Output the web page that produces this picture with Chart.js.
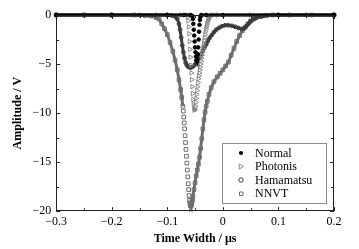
<!DOCTYPE html>
<html>
<head>
<meta charset="utf-8">
<script src="https://cdn.jsdelivr.net/npm/chart.js@4.4.0/dist/chart.umd.min.js"></script>
<style>
  html, body { margin: 0; padding: 0; background: #fff; }
</style>
</head>
<body>
<canvas id="pulseChart" width="359" height="249"></canvas>
<script>
const seriesNames = ['Normal', 'Photonis', 'Hamamatsu', 'NNVT'];

const xNormal = [-0.3, -0.2, -0.1, -0.07, -0.058, -0.0548, -0.054, -0.0532, -0.0524, -0.0516, -0.0508, -0.05, -0.0492, -0.0484,
  -0.0476, -0.0468, -0.046, -0.0452, -0.0444, -0.0436, -0.0428, -0.042, -0.0412, -0.0404, -0.039, -0.03, 0, 0.1, 0.2];
const yNormal = [0, 0, 0, 0, 0, -0.1, -0.4, -0.9, -1.5, -2.1, -2.7, -3.3, -3.8, -4.25,
  -4.6, -4.7, -4.5, -4.0, -3.3, -2.5, -1.7, -1.0, -0.5, -0.2, 0, 0, 0, 0, 0];

const xPhotonis = [-0.3, -0.2, -0.1, -0.075, -0.064,
  -0.0632, -0.0624, -0.0616, -0.0608, -0.06, -0.0592, -0.0584, -0.0576, -0.0568, -0.056, -0.0552, -0.0544, -0.0536, -0.0528, -0.052, -0.0512,
  -0.0504, -0.0496, -0.0488, -0.048, -0.0472, -0.0464, -0.0456, -0.0448, -0.044, -0.0432, -0.0424, -0.0416, -0.0408, -0.04, -0.0392,
  -0.0384, -0.0376, -0.0368, -0.036, -0.0352, -0.0344, -0.0336, -0.0328, -0.032, -0.0312, -0.0304, -0.0296, -0.0288, -0.028,
  -0.027, -0.026, -0.024, -0.022, -0.019, -0.01, 0.05, 0.1, 0.2];
const yPhotonis = [0, 0, 0, 0, 0,
  -0.2, -0.6, -1.2, -1.9, -2.7, -3.5, -4.3, -5.1, -5.9, -6.6, -7.3, -8.0, -8.6, -9.1, -9.5, -9.7,
  -9.6, -9.3, -8.9, -8.5, -8.1, -7.7, -7.3, -6.9, -6.5, -6.2, -5.9, -5.6, -5.3, -5.0, -4.7,
  -4.4, -4.1, -3.8, -3.5, -3.2, -2.9, -2.6, -2.3, -2.0, -1.7, -1.45, -1.2, -1.0, -0.8,
  -0.6, -0.45, -0.25, -0.1, 0, 0, 0, 0, 0];

const xHamamatsu = [-0.3, -0.25, -0.2, -0.15, -0.12, -0.1,
  -0.092, -0.086, -0.082, -0.079, -0.077, -0.075, -0.073, -0.071, -0.069, -0.067, -0.065, -0.063, -0.06, -0.057,
  -0.054, -0.051, -0.048, -0.045, -0.042, -0.039, -0.036, -0.033, -0.03, -0.027, -0.024,
  -0.02, -0.016, -0.012, -0.007, -0.002,
  0.004, 0.01, 0.016, 0.022, 0.028, 0.034, 0.038, 0.042, 0.046, 0.05, 0.055, 0.06, 0.07, 0.08,
  0.1, 0.15, 0.2];
const yHamamatsu = [0, 0, 0, 0, 0, 0,
  -0.05, -0.15, -0.4, -0.9, -1.5, -2.3, -3.1, -3.8, -4.4, -4.85, -5.1, -5.25, -5.35, -5.35,
  -5.25, -5.1, -4.9, -4.65, -4.35, -4.0, -3.6, -3.3, -3.0, -2.65, -2.35,
  -2.05, -1.75, -1.5, -1.3, -1.15,
  -1.05, -1.05, -1.1, -1.2, -1.32, -1.42, -1.38, -1.15, -0.9, -0.65, -0.45, -0.3, -0.15, -0.05,
  0, 0, 0];

const xNNVT = [-0.3, -0.25, -0.2, -0.16, -0.14, -0.13, -0.12, -0.115, -0.11, -0.105, -0.1, -0.095, -0.09, -0.086, -0.082, -0.079, -0.076, -0.074, -0.072,
  -0.0712, -0.0704, -0.0696, -0.0688, -0.068, -0.0672, -0.0664, -0.0656, -0.0648, -0.064, -0.0632, -0.0624, -0.0616, -0.0608, -0.06, -0.0592, -0.0584, -0.0576,
  -0.0568, -0.056, -0.055, -0.054, -0.052, -0.05, -0.048, -0.046, -0.044, -0.042,
  -0.04, -0.038, -0.036, -0.034, -0.032, -0.03, -0.028, -0.025, -0.021, -0.016,
  -0.01, -0.005, 0, 0.005, 0.01, 0.015, 0.02, 0.025, 0.03, 0.035,
  0.04, 0.045, 0.05, 0.056, 0.064, 0.075, 0.09, 0.12, 0.16, 0.2];
const yNNVT = [0, 0, 0, 0, -0.05, -0.1, -0.25, -0.4, -0.9, -1.4, -2.0, -2.8, -3.7, -4.6, -5.6, -6.6, -7.6, -8.4, -9.3,
  -9.8, -10.4, -11.0, -11.6, -12.3, -13.0, -13.7, -14.4, -15.1, -15.8, -16.5, -17.2, -17.8, -18.4, -18.9, -19.2, -19.4, -19.5,
  -19.4, -19.2, -18.9, -18.5, -17.8, -17.1, -16.4, -15.8, -15.2, -14.5,
  -13.6, -12.6, -11.6, -10.7, -9.9, -9.3, -8.8, -8.1, -7.4, -6.8,
  -6.3, -5.95, -5.6, -5.2, -4.8, -4.1, -3.4, -2.7, -2.1, -1.6,
  -1.25, -0.9, -0.6, -0.35, -0.15, -0.05, 0, 0, 0, 0];

const xTicks = [-0.3, -0.2, -0.1, 0, 0.1, 0.2];
const yTicks = [0, -5, -10, -15, -20];

const serif = 'Liberation Serif, Times New Roman, serif';

function pairs(xs, ys) {
  return xs.map((x, i) => ({ x: x, y: ys[i] }));
}

// hide the connecting line where the curve is steep (sparse markers there)
function steepHide(color, maxSlope) {
  return {
    borderColor: c => {
      const dx = Math.abs(c.p1.x - c.p0.x);
      const dy = Math.abs(c.p1.y - c.p0.y);
      return dy > maxSlope * Math.max(dx, 0.01) ? 'rgba(0,0,0,0)' : color;
    }
  };
}

function fmt(v) {
  return String(Math.round(v * 10) / 10).replace('-', '\u2212');
}

const styles = [
  { color: '#000', style: 'circle', radius: 1.8, fill: '#000', slope: 3, width: 3, rot: 0 },
  { color: '#8a8a8a', style: 'triangle', radius: 2.6, fill: 'rgba(0,0,0,0)', slope: 3, width: 3, rot: 90 },
  { color: '#3a3a3a', style: 'circle', radius: 1.9, fill: 'rgba(0,0,0,0)', slope: 1000, width: 3, rot: 0 },
  { color: '#6e6e6e', style: 'rect', radius: 2.6, fill: 'rgba(0,0,0,0)', slope: 10, width: 3, rot: 0 }
];

const seriesData = [
  pairs(xNormal, yNormal),
  pairs(xPhotonis, yPhotonis),
  pairs(xHamamatsu, yHamamatsu),
  pairs(xNNVT, yNNVT)
];

const frame = {
  id: 'frame',
  afterDatasetsDraw(chart) {
    const { ctx, chartArea: a, scales: { x, y } } = chart;
    ctx.save();
    ctx.strokeStyle = '#222';
    ctx.lineWidth = 1;
    ctx.strokeRect(Math.round(a.left) + 0.5, Math.round(a.top) + 0.5,
      Math.round(a.right - a.left) - 1, Math.round(a.bottom - a.top) - 1);
    ctx.beginPath();
    for (let i = 0; i <= 10; i++) {
      const v = -0.3 + i * 0.05;
      const px = Math.round(x.getPixelForValue(v)) + 0.5;
      const len = i % 2 === 0 ? 4 : 3;
      ctx.moveTo(px, a.bottom); ctx.lineTo(px, a.bottom - len);
      ctx.moveTo(px, a.top); ctx.lineTo(px, a.top + len);
    }
    for (let i = 0; i <= 8; i++) {
      const v = -i * 2.5;
      const py = Math.round(y.getPixelForValue(v)) + 0.5;
      const len = i % 2 === 0 ? 4 : 3;
      ctx.moveTo(a.left, py); ctx.lineTo(a.left + len, py);
      ctx.moveTo(a.right, py); ctx.lineTo(a.right - len, py);
    }
    ctx.stroke();

    // legend box
    const bx = 222, by = 143, bw = 104, bh = 60;
    ctx.fillStyle = '#fff';
    ctx.fillRect(bx, by, bw, bh);
    ctx.strokeStyle = '#8c8c8c';
    ctx.strokeRect(bx + 0.5, by + 0.5, bw, bh);
    const rows = [153, 166.5, 180, 193.5];
    ctx.font = '12px ' + serif;
    ctx.textBaseline = 'middle';
    seriesNames.forEach((name, i) => {
      const s = styles[i];
      const mx = 241, my = rows[i];
      ctx.strokeStyle = s.color;
      ctx.fillStyle = s.fill;
      ctx.lineWidth = 1;
      ctx.beginPath();
      if (s.style === 'circle') {
        ctx.arc(mx, my, s.radius + 0.3, 0, Math.PI * 2);
        if (i === 0) ctx.fill(); else ctx.stroke();
      } else if (s.style === 'triangle') {
        ctx.moveTo(mx + 2.6, my);
        ctx.lineTo(mx - 1.8, my - 2.6);
        ctx.lineTo(mx - 1.8, my + 2.6);
        ctx.closePath();
        ctx.stroke();
      } else {
        ctx.rect(mx - 1.5, my - 1.5, 3.5, 3.5);
        ctx.stroke();
      }
      ctx.fillStyle = '#000';
      ctx.fillText(name, 255, my + 0.5);
    });
    ctx.restore();
  }
};

new Chart(document.getElementById('pulseChart').getContext('2d'), {
  type: 'scatter',
  data: {
    datasets: seriesNames.map((name, i) => ({
      label: name,
      data: seriesData[i],
      showLine: true,
      borderColor: styles[i].color,
      borderWidth: styles[i].width,
      segment: steepHide(styles[i].color, styles[i].slope),
      pointStyle: styles[i].style,
      pointRotation: styles[i].rot,
      pointRadius: styles[i].radius,
      pointBorderWidth: 1,
      pointBorderColor: styles[i].color,
      pointBackgroundColor: styles[i].fill,
      pointHoverRadius: styles[i].radius,
      clip: 5
    }))
  },
  options: {
    responsive: false,
    animation: false,
    devicePixelRatio: 1,
    layout: { padding: { left: 11, right: 25, top: 15, bottom: 3 } },
    plugins: {
      legend: { display: false },
      tooltip: { enabled: false }
    },
    scales: {
      x: {
        type: 'linear',
        min: -0.3,
        max: 0.2,
        afterBuildTicks: s => { s.ticks = xTicks.map(v => ({ value: v })); },
        ticks: { callback: v => fmt(v), color: '#000', font: { family: serif, size: 12 }, padding: 3, maxRotation: 0, autoSkip: false },
        grid: { display: false, drawTicks: false },
        border: { display: false },
        title: { display: true, text: 'Time Width / \u00b5s', color: '#000', font: { family: serif, size: 12, weight: 'bold' }, padding: { top: 0, bottom: 0 } }
      },
      y: {
        type: 'linear',
        min: -20,
        max: 0,
        afterBuildTicks: s => { s.ticks = yTicks.map(v => ({ value: v })); },
        ticks: { callback: v => fmt(v), color: '#000', font: { family: serif, size: 12 }, padding: 5, autoSkip: false },
        grid: { display: false, drawTicks: false },
        border: { display: false },
        title: { display: true, text: 'Amplitude / V', color: '#000', font: { family: serif, size: 12, weight: 'bold' }, padding: { top: 0, bottom: 2 } }
      }
    }
  },
  plugins: [frame]
});
</script>
</body>
</html>
